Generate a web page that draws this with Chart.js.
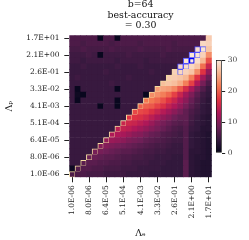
<!DOCTYPE html>
<html>
<head>
<meta charset="utf-8">
<title>b=64 heatmap</title>
<script src="https://cdn.jsdelivr.net/npm/chart.js"></script>
<style>
  body { margin: 0; background: #fff; }
  .wrap { position: relative; width: 249px; height: 240px; }
  .wrap canvas { position: absolute; left: 0; top: 0; }
</style>
</head>
<body>
<div class="wrap">
  <canvas id="heat" width="249" height="240"></canvas>
  <canvas id="cbar" width="249" height="240"></canvas>
</div>
<script>
  const titleLines = ['b=64', 'best-accuracy', '= 0.30'];

  // lambda grid: 1e-6 * 2^k, k = 0..24 (same on both axes)
  const lambdas = ['1.0E-06','2.0E-06','4.0E-06','8.0E-06','1.6E-05','3.2E-05','6.4E-05','1.3E-04',
                   '2.6E-04','5.1E-04','1.0E-03','2.0E-03','4.1E-03','8.2E-03','1.6E-02','3.3E-02',
                   '6.6E-02','1.3E-01','2.6E-01','5.2E-01','1.0E+00','2.1E+00','4.2E+00','8.4E+00','1.7E+01'];
  const tickIndex  = [0, 3, 6, 9, 12, 15, 18, 21, 24];
  const tickLabels = ['1.0E-06','8.0E-06','6.4E-05','5.1E-04','4.1E-03','3.3E-02','2.6E-01','2.1E+00','1.7E+01'];

  // accuracy (%) rows from top (Λp = 1.7E+01) to bottom (Λp = 1.0E-06), columns Λe left -> right
  const accRows = [
    [6,6,6,6,6,0.5,6,6,0.5,6,6,6,6,6,6,6,6,6,6,6,6,6,6,6,27.5],
    [6,6,5.5,6,6,6,6,5.5,6,6,6,6,5.5,6,6,6,6,6,5.5,6,6,6,6,28.5,28],
    [5.5,5.5,6,5.5,5.5,5.5,5.5,6,5.5,5.5,5.5,5.5,6,5.5,5.5,5.5,5.5,6,5.5,5.5,5.5,5.5,29,29.5,27],
    [5,5,5,5.5,5,0.5,5,5,5,5,5.5,5,5,5,5,5,5.5,5,5,5,5,29.5,29.5,28,23],
    [5,5,4.5,5,5,5,5,5,4.5,5,5,5,5,4.5,5,5,5,5,5,5,29.5,30,29,26,19],
    [4.5,4.5,5,4.5,4.5,4.5,4.5,4.5,5,4.5,4.5,4.5,5,4.5,4.5,4.5,4.5,4.5,4.5,28.5,29,28.5,27,21,15],
    [4.5,4.5,4.5,4.5,4.5,4.5,5,4.5,4.5,4.5,4.5,4.5,4.5,4.5,5,4.5,4.5,4.5,28,28.5,28,27,23,17,11],
    [4.5,5,4.5,4.5,4.5,4.5,4.5,4.5,4.5,4.5,5,4.5,4.5,4.5,4.5,4.5,4.5,27.5,27.5,27,26,22,17,12,8],
    [4.5,4.5,4.5,4.5,4.5,4.5,4.5,5,4.5,4.5,4.5,4.5,4.5,4.5,4.5,4.5,26.5,27,26.5,25,22,18,13,9,6],
    [4.5,0.5,4.5,4.5,4.5,4.5,4.5,4.5,0.5,4.5,4.5,4.5,4.5,4.5,4.5,24,24.5,24,22.5,19.5,16,12.5,9,6.5,4.5],
    [4.5,1,0.5,4.5,4.5,4.5,4.5,4.5,4.5,4.5,4.5,4.5,4.5,0.5,23,23,22,20.5,18,15,12,9.5,7,5,4],
    [4.5,0.5,4.5,4.5,4.5,4.5,4.5,4.5,0.5,4.5,4.5,4.5,4.5,21.5,21.5,20.5,19,17,15,12.5,10.5,8,6,4.5,3.5],
    [4.5,4.5,4.5,4.5,4.5,0.5,4.5,4.5,0.5,4.5,4.5,4.5,20,20,19.5,18,16.5,14.5,13,11,9,7,5.5,4,3.5],
    [4.5,4.5,4.5,4.5,4.5,4.5,4.5,4.5,4.5,4.5,4.5,18.5,18.5,18,16.5,15,13.5,12,10.5,9,7.5,6,5,4,3.5],
    [4.5,4.5,4.5,4.5,4.5,4.5,4.5,4.5,4.5,4.5,17,17,16.5,15.5,14,12.5,11,10,8.5,7.5,7.5,5.5,4.5,3.5,3],
    [4.5,4.5,4.5,4.5,4.5,4.5,4.5,4.5,4.5,15,15.5,15,14,13,11.5,10,9,8,7,6.5,7,5,4,3.5,3],
    [4.5,4.5,4.5,4.5,4.5,4.5,4.5,4.5,14,14.5,14,13,12,11,10,9,8,7,6,5.5,6.5,4.5,4,3,3],
    [4.5,4.5,4.5,4.5,4.5,4.5,4.5,13,13,12.5,11.5,10.5,10,9,8,7.5,6.5,6,5.5,5,6.5,4,3.5,3,2.5],
    [4.5,4.5,4.5,4.5,4.5,4.5,11,11.5,11,10.5,9.5,9,8.5,7.5,7,6.5,6,5.5,5,5,6.5,4,3.5,3,2.5],
    [4.5,4.5,4.5,4.5,4.5,10,10,9.5,9,8.5,8,7.5,7,6.5,6,5.5,5.5,5,4.5,4.5,6.5,4,3.5,3,2.5],
    [4.5,4.5,4.5,4.5,9,9,8.5,8,7.5,7,7,6.5,6,5.5,5.5,5,5,4.5,4.5,4.5,6.5,3.5,3.5,3,2.5],
    [4.5,4.5,4.5,8,8,7.5,7,7,6.5,6,6,5.5,5.5,5,5,4.5,4.5,4.5,4,4,6.5,3.5,3,3,2.5],
    [4.5,4.5,7,7,7,6.5,6.5,6,6,5.5,5.5,5,5,5,4.5,4.5,4.5,4,4,4,7,3.5,3,2.5,2.5],
    [1,6.5,6.5,6.5,6,6,5.5,5.5,5.5,5,5,5,4.5,4.5,4.5,4.5,4,4,4,4,7,3.5,3,2.5,2.5],
    [6,6,6,5.5,5.5,5.5,5,5,5,5,4.5,4.5,4.5,4.5,4,4,4,4,4,4,7,3.5,3,2.5,2.5]
  ];

  // outlined cells, as [column, k] with k counted from the bottom
  const diagOutline = [0,1,2,3,4,5,6,7,8,9,10,11,12,13,14,15,16,17,18];
  const nearBest = [[19,18],[19,19],[20,19],[20,20],[21,21],[22,21],[22,22],[23,22]];
  const bestCell = [21, 20];
  const vmax = 30;

  const rocket = [[0,'#03051a'],[1/7,'#35193e'],[2/7,'#701f57'],[3/7,'#ad1759'],
                  [4/7,'#e13342'],[5/7,'#f37651'],[6/7,'#f6b48f'],[1,'#faebdd']];

  function hexRgb(h) { return [1,3,5].map(i => parseInt(h.substr(i, 2), 16)); }
  function rocketColor(t) {
    t = Math.max(0, Math.min(1, t));
    for (let i = 1; i < rocket.length; i++) {
      if (t <= rocket[i][0]) {
        const a = rocket[i-1], b = rocket[i];
        const f = (t - a[0]) / (b[0] - a[0]);
        const ca = hexRgb(a[1]), cb = hexRgb(b[1]);
        const c = ca.map((v, j) => Math.round(v + (cb[j] - v) * f));
        return 'rgb(' + c.join(',') + ')';
      }
    }
    return rocket[rocket.length-1][1];
  }

  const serif = 'DejaVu Serif';
  Chart.defaults.color = '#222';
  Chart.defaults.font.family = serif;

  function cellStyle(c, k) {
    if (c === bestCell[0] && k === bestCell[1]) return { color: '#0000ff', width: 1.6 };
    if (nearBest.some(p => p[0] === c && p[1] === k)) return { color: '#5050ff', width: 1 };
    if (c === k && diagOutline.includes(c)) return { color: '#f3dca0', width: 1 };
    return null;
  }

  const datasets = [];
  for (let k = 0; k < 25; k++) {
    const row = accRows[24 - k];
    datasets.push({
      data: row.map(() => 1),
      backgroundColor: row.map(v => rocketColor(v / vmax)),
      borderColor: ctx => { const s = cellStyle(ctx.dataIndex, k); return s ? s.color : 'rgba(0,0,0,0)'; },
      borderWidth: ctx => { const s = cellStyle(ctx.dataIndex, k); return s ? s.width : 0; },
      borderSkipped: false,
      barPercentage: 1,
      categoryPercentage: 1
    });
  }

  new Chart(document.getElementById('heat'), {
    type: 'bar',
    data: { labels: lambdas, datasets: datasets },
    options: {
      responsive: false,
      animation: false,
      devicePixelRatio: 1,
      layout: { padding: { left: 0, right: 37.2, top: 0, bottom: 0 } },
      plugins: {
        legend: { display: false },
        tooltip: { enabled: false },
        title: {
          display: true, text: titleLines, fullSize: false, color: '#111',
          font: { family: serif, size: 9.4, weight: 'normal', lineHeight: 1.075 },
          padding: { top: 0, bottom: 5 }
        }
      },
      scales: {
        x: {
          stacked: true,
          offset: true,
          border: { display: false },
          grid: { offset: false, drawOnChartArea: false, tickLength: 5, color: '#222', lineWidth: 1 },
          ticks: { autoSkip: false, minRotation: 90, maxRotation: 90, padding: 3, font: { size: 7.5 } },
          afterBuildTicks: s => { s.ticks = tickIndex.map(v => ({ value: v })); },
          afterFit: s => { s.height = 62.7; },
          title: { display: true, text: 'Λₑ', font: { size: 9.4 }, padding: { top: 0, bottom: 0.4 } }
        },
        y: {
          stacked: true,
          min: 0, max: 25,
          border: { display: false },
          grid: { drawOnChartArea: false, tickLength: 5, color: '#222', lineWidth: 1 },
          ticks: { padding: 4.7, font: { size: 7.5 }, callback: v => tickLabels[Math.round((v - 0.5) / 3)] },
          afterBuildTicks: s => { s.ticks = tickIndex.map(i => ({ value: i + 0.5 })); },
          afterFit: s => { s.width = 69.3; },
          title: { display: true, text: 'Λₚ', font: { size: 9.4 }, padding: { top: 3.9, bottom: 0 } }
        }
      }
    }
  });

  // colorbar
  const cbarTicks = [0, 10, 20, 30];
  new Chart(document.getElementById('cbar'), {
    type: 'bar',
    data: {
      labels: [''],
      datasets: [{
        data: [[0, vmax]],
        backgroundColor: ctx => {
          const area = ctx.chart.chartArea;
          if (!area) return '#000';
          const g = ctx.chart.ctx.createLinearGradient(0, area.bottom, 0, area.top);
          rocket.forEach(s => g.addColorStop(s[0], s[1]));
          return g;
        },
        borderColor: '#111',
        borderWidth: 1,
        borderSkipped: false,
        barPercentage: 1,
        categoryPercentage: 1
      }]
    },
    options: {
      responsive: false,
      animation: false,
      devicePixelRatio: 1,
      layout: { padding: { left: 216, top: 60, bottom: 87, right: 0 } },
      plugins: { legend: { display: false }, tooltip: { enabled: false } },
      scales: {
        x: { display: false },
        y: {
          position: 'right',
          min: 0, max: vmax,
          border: { display: false },
          grid: { drawOnChartArea: false, tickLength: 3.5, color: '#222' },
          ticks: { color: '#444', padding: 2.5, font: { size: 7.5 } },
          afterBuildTicks: s => { s.ticks = cbarTicks.map(v => ({ value: v })); },
          afterFit: s => { s.width = 27.3; }
        }
      }
    }
  });
</script>
</body>
</html>
